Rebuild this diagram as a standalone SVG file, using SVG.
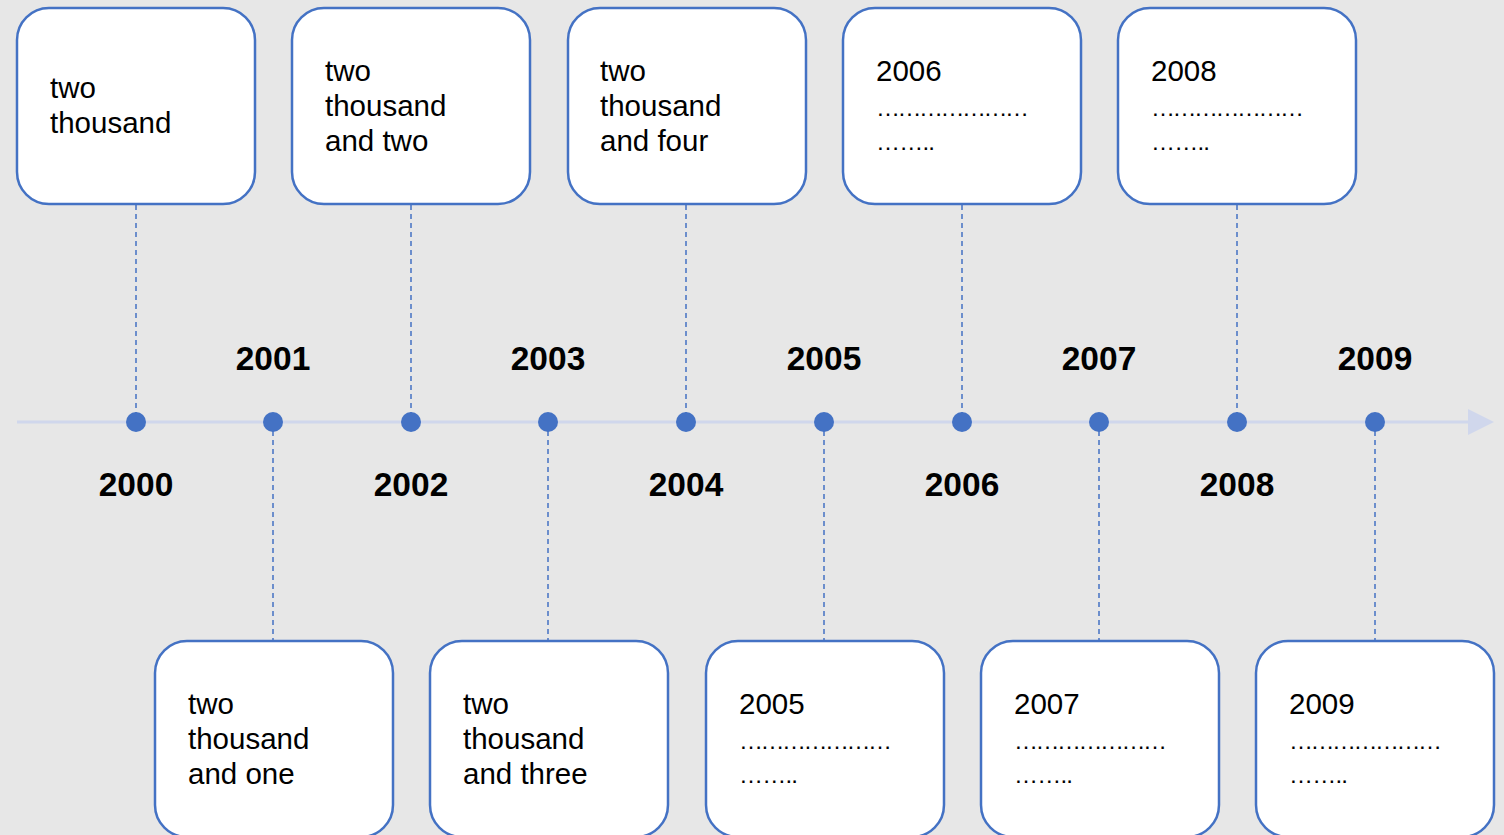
<svg xmlns="http://www.w3.org/2000/svg" width="1504" height="835" viewBox="0 0 1504 835">
<style>
.box{fill:#FFFFFF;stroke:#4472C4;stroke-width:2.5}
.t{font-family:"Liberation Sans",Arial,sans-serif;font-size:29.5px;fill:#000}
.d{font-family:"Liberation Sans",Arial,sans-serif;font-size:24px;fill:#000}
.yr{font-family:"Liberation Sans",Arial,sans-serif;font-size:33.5px;font-weight:bold;fill:#000;text-anchor:middle}
.dash{stroke:#4472C4;stroke-width:1.5;stroke-dasharray:5,4;fill:none}
.dot{fill:#4472C4}
</style>
<rect width="1504" height="835" fill="#E7E7E7"/>
<g id="connectors">
<line x1="17" y1="422" x2="1472" y2="422" stroke="#D0D7EC" stroke-width="3"/>
<polygon points="1468,409 1494,422 1468,435" fill="#D0D7EC"/>
<line class="dash" x1="136" y1="205" x2="136" y2="422"/>
<line class="dash" x1="411" y1="205" x2="411" y2="422"/>
<line class="dash" x1="686" y1="205" x2="686" y2="422"/>
<line class="dash" x1="962" y1="205" x2="962" y2="422"/>
<line class="dash" x1="1237" y1="205" x2="1237" y2="422"/>
<line class="dash" x1="273" y1="422" x2="273" y2="640"/>
<line class="dash" x1="548" y1="422" x2="548" y2="640"/>
<line class="dash" x1="824" y1="422" x2="824" y2="640"/>
<line class="dash" x1="1099" y1="422" x2="1099" y2="640"/>
<line class="dash" x1="1375" y1="422" x2="1375" y2="640"/>
</g>
<g id="dots">
<circle class="dot" cx="136" cy="422" r="10"/>
<circle class="dot" cx="273" cy="422" r="10"/>
<circle class="dot" cx="411" cy="422" r="10"/>
<circle class="dot" cx="548" cy="422" r="10"/>
<circle class="dot" cx="686" cy="422" r="10"/>
<circle class="dot" cx="824" cy="422" r="10"/>
<circle class="dot" cx="962" cy="422" r="10"/>
<circle class="dot" cx="1099" cy="422" r="10"/>
<circle class="dot" cx="1237" cy="422" r="10"/>
<circle class="dot" cx="1375" cy="422" r="10"/>
</g>
<g id="years">
<text class="yr" x="136" y="496">2000</text>
<text class="yr" x="273" y="370">2001</text>
<text class="yr" x="411" y="496">2002</text>
<text class="yr" x="548" y="370">2003</text>
<text class="yr" x="686" y="496">2004</text>
<text class="yr" x="824" y="370">2005</text>
<text class="yr" x="962" y="496">2006</text>
<text class="yr" x="1099" y="370">2007</text>
<text class="yr" x="1237" y="496">2008</text>
<text class="yr" x="1375" y="370">2009</text>
</g>
<g id="box2000">
<rect class="box" x="17" y="8" width="238" height="196" rx="32"/>
<text class="t" x="50" y="98">two</text>
<text class="t" x="50" y="133">thousand</text>
</g>
<g id="box2002">
<rect class="box" x="292" y="8" width="238" height="196" rx="32"/>
<text class="t" x="325" y="81">two</text>
<text class="t" x="325" y="116">thousand</text>
<text class="t" x="325" y="151">and two</text>
</g>
<g id="box2004">
<rect class="box" x="568" y="8" width="238" height="196" rx="32"/>
<text class="t" x="600" y="81">two</text>
<text class="t" x="600" y="116">thousand</text>
<text class="t" x="600" y="151">and four</text>
</g>
<g id="box2006">
<rect class="box" x="843" y="8" width="238" height="196" rx="32"/>
<text class="t" x="876" y="81">2006</text>
<text class="d" x="876" y="116" textLength="153" lengthAdjust="spacing">…………………</text>
<text class="d" x="876" y="150" textLength="59" lengthAdjust="spacing">……..</text>
</g>
<g id="box2008">
<rect class="box" x="1118" y="8" width="238" height="196" rx="32"/>
<text class="t" x="1151" y="81">2008</text>
<text class="d" x="1151" y="116" textLength="153" lengthAdjust="spacing">…………………</text>
<text class="d" x="1151" y="150" textLength="59" lengthAdjust="spacing">……..</text>
</g>
<g id="box2001">
<rect class="box" x="155" y="641" width="238" height="196" rx="32"/>
<text class="t" x="188" y="714">two</text>
<text class="t" x="188" y="749">thousand</text>
<text class="t" x="188" y="784">and one</text>
</g>
<g id="box2003">
<rect class="box" x="430" y="641" width="238" height="196" rx="32"/>
<text class="t" x="463" y="714">two</text>
<text class="t" x="463" y="749">thousand</text>
<text class="t" x="463" y="784">and three</text>
</g>
<g id="box2005">
<rect class="box" x="706" y="641" width="238" height="196" rx="32"/>
<text class="t" x="739" y="714">2005</text>
<text class="d" x="739" y="749" textLength="153" lengthAdjust="spacing">…………………</text>
<text class="d" x="739" y="783" textLength="59" lengthAdjust="spacing">……..</text>
</g>
<g id="box2007">
<rect class="box" x="981" y="641" width="238" height="196" rx="32"/>
<text class="t" x="1014" y="714">2007</text>
<text class="d" x="1014" y="749" textLength="153" lengthAdjust="spacing">…………………</text>
<text class="d" x="1014" y="783" textLength="59" lengthAdjust="spacing">……..</text>
</g>
<g id="box2009">
<rect class="box" x="1256" y="641" width="238" height="196" rx="32"/>
<text class="t" x="1289" y="714">2009</text>
<text class="d" x="1289" y="749" textLength="153" lengthAdjust="spacing">…………………</text>
<text class="d" x="1289" y="783" textLength="59" lengthAdjust="spacing">……..</text>
</g>
</svg>
